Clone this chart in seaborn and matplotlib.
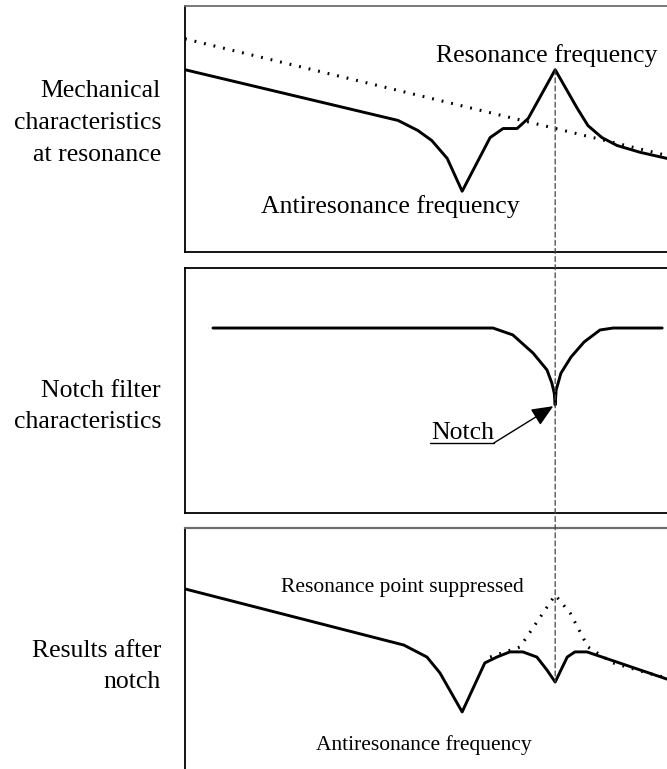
import matplotlib
matplotlib.use("Agg")
import matplotlib.pyplot as plt
from matplotlib.patches import ConnectionPatch
import seaborn as sns

sns.set_style("white")
plt.rcParams["font.family"] = ["Liberation Serif", "DejaVu Serif"]
plt.rcParams["text.color"] = "black"

# Frequency axis runs 0..100 (arbitrary units), gain in arbitrary units
# --- Mechanical characteristics at resonance ---
mech_x = [0, 44.2, 48.3, 51.2, 54.4, 57.5, 63.3, 66.0, 68.9, 71.2, 76.8,
          81.3, 83.6, 86.5, 89.6, 94.4, 100]
mech_y = [74.4, 53.7, 49.6, 45.5, 38.2, 24.8, 46.7, 50.4, 50.4, 54.5, 74.4,
          58.9, 51.6, 46.7, 43.5, 40.7, 38.2]
rigid_x = [0, 100]
rigid_y = [87.0, 39.4]

# --- Notch filter characteristics ---
notch_x = [5.8, 63.9, 68.0, 72.2, 75.1, 76.1, 76.6, 76.8, 77.0, 78.0, 80.1,
           82.8, 86.1, 88.8, 99.0]
notch_y = [75.5, 75.5, 72.7, 65.3, 58.4, 53.1, 49.0, 44.1, 50.2, 57.1, 63.7,
           69.8, 74.7, 75.5, 75.5]

# --- Results after notch ---
result_x = [0, 45.4, 50.2, 52.9, 57.5, 62.2, 64.7, 67.4, 70.1, 73.0, 75.1,
            76.8, 79.3, 80.9, 83.4, 100]
result_y = [73.9, 51.0, 46.1, 39.6, 23.7, 43.7, 46.1, 48.2, 48.2, 46.1, 40.8,
            35.9, 46.1, 48.2, 48.2, 37.1]
unfiltered_x = [63.3, 69.5, 73.7, 76.8, 79.9, 83.6, 88.8, 95.9, 100]
unfiltered_y = [46.1, 50.2, 62.4, 71.4, 64.1, 50.2, 43.7, 39.6, 37.6]

resonance_f = 76.8

panel_labels = [
    ["Mechanical", "characteristics", "at resonance"],
    ["Notch filter", "characteristics"],
    ["Results after", "notch"],
]

W, H = 667, 769
fig = plt.figure(figsize=(W / 100, H / 100), dpi=100)

def px_axes(top, bottom):
    return fig.add_axes([185 / W, (H - bottom) / H, (W - 185) / W,
                         (bottom - top) / H])

ax1 = px_axes(6, 252)
ax2 = px_axes(268, 513)
ax3 = px_axes(528, 770)

heights = {ax1: 246, ax2: 245, ax3: 242}
for ax in (ax1, ax2, ax3):
    ax.set_xlim(0, 100)
    ax.set_ylim(0, heights[ax] / 2.45)
    ax.set_xticks([])
    ax.set_yticks([])
    ax.set_xlabel("")
    ax.set_ylabel("")
    ax.spines["right"].set_visible(False)
    for s in ("left", "top", "bottom"):
        ax.spines[s].set_color("black")
        ax.spines[s].set_linewidth(1.3)
ax1.spines["top"].set_color("#6e6e6e")
ax3.spines["top"].set_color("#6e6e6e")
ax3.spines["top"].set_linewidth(1.6)
ax3.spines["bottom"].set_visible(False)

solid = dict(color="black", linewidth=2.1, sort=False, estimator=None)
dotted = dict(color="black", linewidth=2.2, sort=False, estimator=None,
              linestyle=(0, (0.6, 2.6)))

sns.lineplot(x=rigid_x, y=rigid_y, ax=ax1, **dotted)
sns.lineplot(x=mech_x, y=mech_y, ax=ax1, **solid)
sns.lineplot(x=notch_x, y=notch_y, ax=ax2, **solid)
sns.lineplot(x=unfiltered_x, y=unfiltered_y, ax=ax3, **dotted)
sns.lineplot(x=result_x, y=result_y, ax=ax3, **solid)

big = 18.5
small = 15.5
ax1.text(75.1, 77.6, "Resonance frequency", ha="center", va="baseline",
         fontsize=big)
ax1.text(42.5, 15.9, "Antiresonance frequency", ha="center", va="baseline",
         fontsize=big)

# Notch label, underlined, with leader arrow to the notch bottom
ax2.text(51.0, 30.2, "Notch", ha="left", va="baseline", fontsize=big)
ax2.plot([50.9, 64.1], [28.6, 28.6], color="black", lw=1.0)
ax2.annotate("", xy=(76.4, 43.6), xytext=(64.1, 28.6),
             arrowprops=dict(arrowstyle="-|>,head_length=0.6,head_width=0.26",
                             color="black", lw=1.0,
                             mutation_scale=22, shrinkA=0, shrinkB=0))

ax3.text(45.0, 72.7, "Resonance point suppressed", ha="center",
         va="baseline", fontsize=small)
ax3.text(49.6, 8.2, "Antiresonance frequency", ha="center", va="baseline",
         fontsize=small)

# Dashed guide linking the resonance peak through all three panels
con = ConnectionPatch(xyA=(resonance_f, mech_y[mech_x.index(resonance_f)]),
                      coordsA=ax1.transData,
                      xyB=(resonance_f, result_y[result_x.index(resonance_f)]),
                      coordsB=ax3.transData,
                      color="#444444", lw=0.9, linestyle=(0, (4, 2.5)))
fig.add_artist(con)

baselines = [[97, 129, 161], [397, 428], [657, 688]]
for lines, ys in zip(panel_labels, baselines):
    for line, yb in zip(lines, ys):
        fig.text(161 / W, (H - yb) / H, line, ha="right", va="baseline",
                 fontsize=big)

fig.savefig("out.png", dpi=100)
